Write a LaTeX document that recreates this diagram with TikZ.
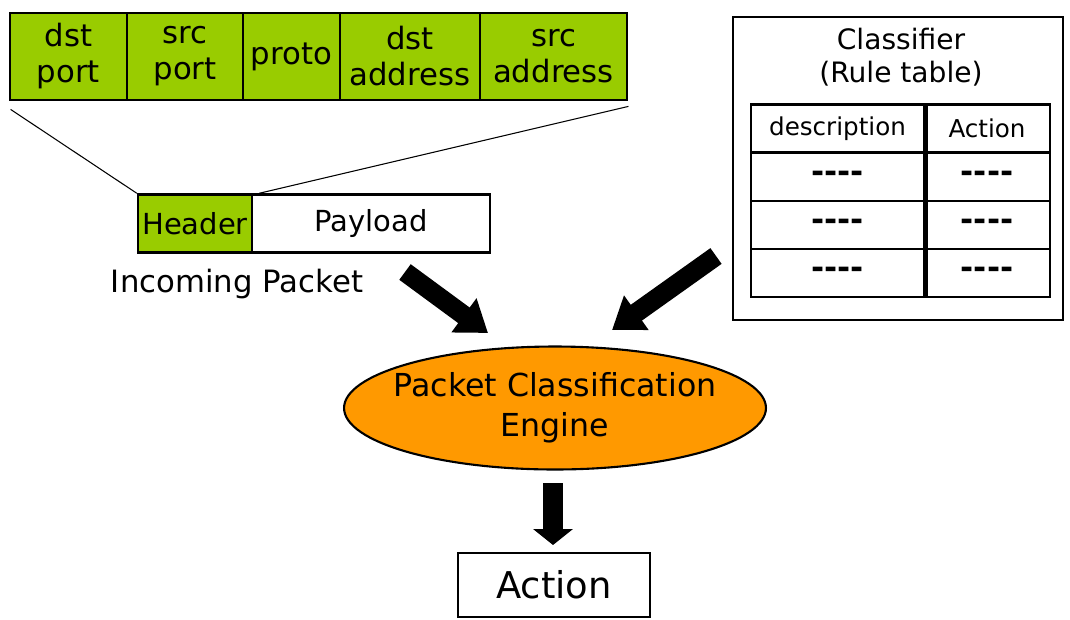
\documentclass[tikz,border=0pt]{standalone}
\usepackage{fontspec}
\setmainfont{DejaVu Sans}[Ligatures=TeXOff]
\usetikzlibrary{shapes.geometric,arrows.meta}

\definecolor{fieldgreen}{HTML}{99CC00}
\definecolor{engineorange}{HTML}{FF9900}

\tikzset{
  field/.style={draw, line width=1.6pt, fill=fieldgreen, inner sep=0pt, align=center,
    minimum height=1.74cm, font=\fontsize{17.5}{20.5}\selectfont},
  pktbox/.style={draw, line width=1.4pt, inner sep=0pt, minimum height=1.16cm,
    font=\fontsize{16.5}{20}\selectfont},
  cell/.style={draw, line width=1.4pt, inner sep=0pt, minimum height=0.96cm,
    font=\fontsize{14}{16}\selectfont},
  dashes/.style={font=\fontsize{18}{20}\selectfont\bfseries},
  bigarrow/.style={line width=11pt, -{Triangle[width=23pt,length=17pt]}},
}

\begin{document}
\begin{tikzpicture}[x=0.02cm,y=-0.02cm]
  \useasboundingbox (0,0) rectangle (1070,619);

  % Coordinates
  \coordinate (pkt_tail) at (405,272);
  \coordinate (pkt_tip) at (488,333);
  \coordinate (cls_tail) at (716,256);
  \coordinate (cls_tip) at (612,330);
  \coordinate (eng_tail) at (553,483);
  \coordinate (eng_tip) at (553,545);

  % Header fields
  \foreach \l/\r/\txt [count=\i] in {10/127/{dst\\port}, 127/243/{src\\port},
      243/340/proto, 340/480/{dst\\address}, 480/627/{src\\address}}
    \node[field, minimum width={(\r-\l)*0.02cm}] (f\i) at ({(\l+\r)/2},56.5) {\txt};

  % Packet
  \node[pktbox, fill=fieldgreen, minimum width=2.28cm] (hdr) at (195,223.5) {Header};
  \node[pktbox, minimum width=4.76cm] (pay) at (371,223.5) {Payload};
  \node[font=\fontsize{17.5}{20}\selectfont] (inpkt) at (237,284) {Incoming Packet};
  \draw[line width=0.6pt] ([shift={(2,8)}]f1.south west) -- (hdr.north west);
  \draw[line width=0.6pt] ([shift={(0,5)}]f5.south east) -- ([shift={(6,0)}]hdr.north east);

  % Classifier
  \node[draw, line width=1.4pt, minimum width=6.6cm, minimum height=6.06cm] (cls) at (898,168.5) {};
  \node[align=center, font=\fontsize{16}{19}\selectfont] (clstitle) at (901,57) {Classifier\\(Rule table)};
  \node[cell, minimum width=3.46cm] (d0) at (837.5,128.5) {description};
  \node[cell, minimum width=2.52cm] (a0) at (987,128.5) {Action};
  \foreach \y [count=\i] in {177,225,273} {
    \node[cell, minimum width=3.46cm] (d\i) at (837.5,\y) {};
    \node[dashes] at (d\i) {----};
    \node[cell, minimum width=2.52cm] (a\i) at (987,\y) {};
    \node[dashes] at (a\i) {----};
  }
  \draw[line width=3pt] (d0.north east) -- (d3.south east);

  % Engine and action
  \node[ellipse, draw, line width=1.2pt, fill=engineorange, inner sep=0pt,
    minimum width=8.44cm, minimum height=2.46cm] (eng) at (555,408) {};
  \node[align=center, font=\fontsize{18}{23}\selectfont] (englabel) at (eng)
    {Packet Classification\\Engine};
  \node[draw, line width=1.4pt, minimum width=3.84cm, minimum height=1.28cm,
    font=\fontsize{21}{25}\selectfont] (act) at (554,585) {Action};

  % Drawing
  \draw[bigarrow] (pkt_tail) -- (pkt_tip);
  \draw[bigarrow] (cls_tail) -- (cls_tip);
  \draw[line width=11pt, -{Triangle[width=22pt,length=9pt]}] (eng_tail) -- (eng_tip);
\end{tikzpicture}
\end{document}
